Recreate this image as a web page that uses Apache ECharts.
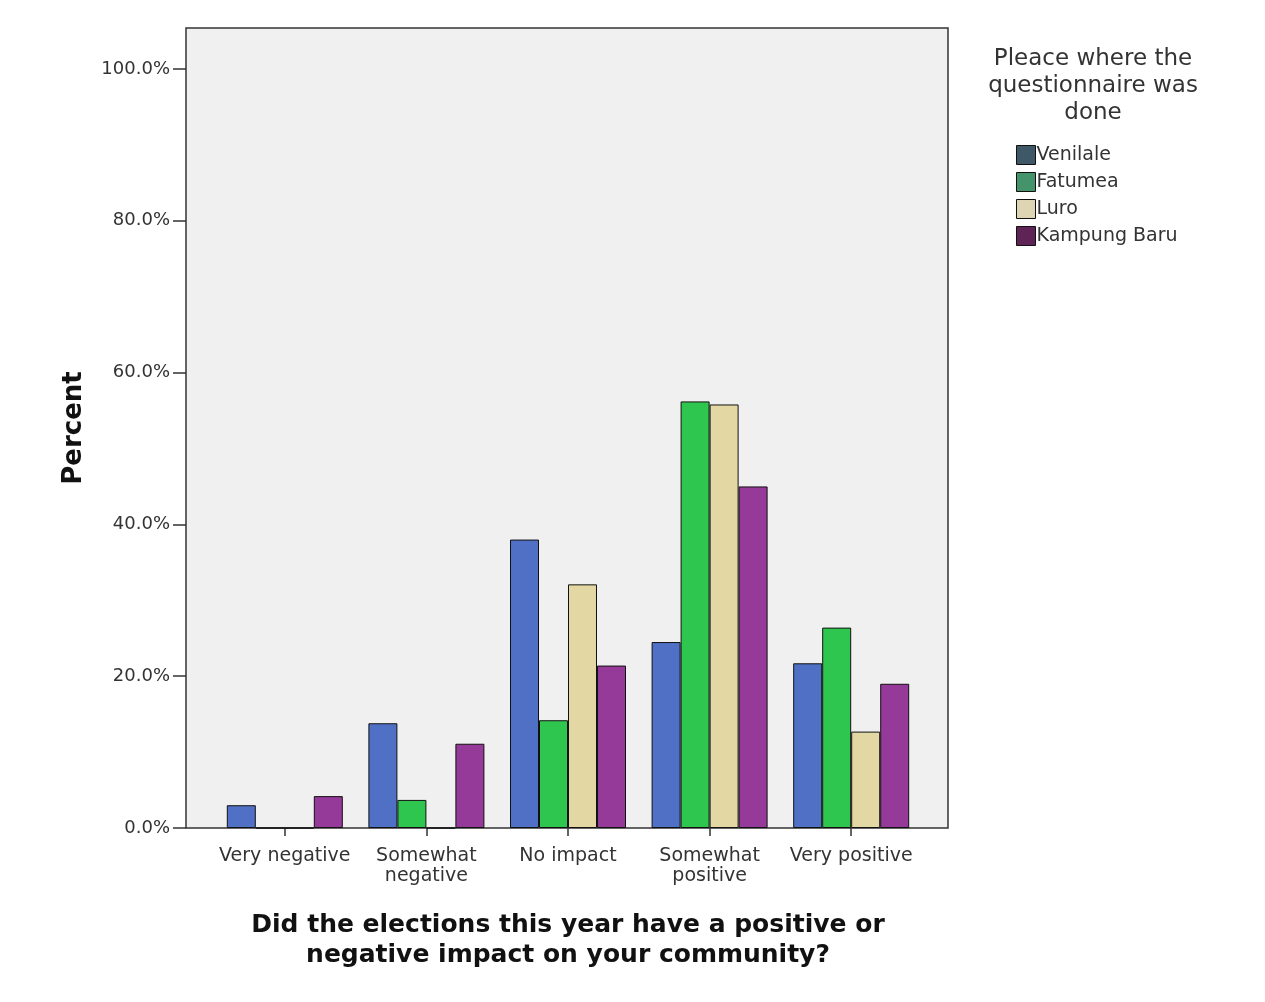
<!DOCTYPE html>
<html><head><meta charset="utf-8">
<script src="https://cdn.jsdelivr.net/npm/echarts@6/dist/echarts.min.js"></script>
<style>html,body{margin:0;padding:0;background:#fff}#c{width:1265px;height:1002px}</style>
</head><body><div id="c"></div>
<script>
const categories = ['Very negative', 'Somewhat\nnegative', 'No impact', 'Somewhat\npositive', 'Very positive'];
const venilale = [3.0, 13.8, 38.0, 24.5, 21.7];
const fatumea = [0, 3.7, 14.2, 56.2, 26.4];
const luro = [0, 0, 32.1, 55.8, 12.7];
const kampungBaru = [4.2, 11.1, 21.4, 45.0, 19.0];
const seriesNames = ['Venilale', 'Fatumea', 'Luro', 'Kampung Baru'];
const barColors = ['#4f70c4', '#2fc64f', '#e3d7a3', '#963a99'];
const legendColors = ['#3e5868', '#44936a', '#ddd5b4', '#5e2456'];
const legendTitle = 'Pleace where the\nquestionnaire was\ndone';
const xTitle = 'Did the elections this year have a positive or\nnegative impact on your community?';
const yTitle = 'Percent';

const chart = echarts.init(document.getElementById('c'));
const FONT = '"DejaVu Sans", Verdana, sans-serif';
const allData = [venilale, fatumea, luro, kampungBaru];
chart.setOption({
  animation: false,
  graphic: [
    { type: 'rect', z: -10, shape: { x: 186, y: 28, width: 762, height: 800 },
      style: { fill: '#f0f0f0', stroke: '#333', lineWidth: 1.5 } },
    { type: 'text', left: 1093 - 120, top: 46, z: 10,
      style: { text: legendTitle, font: '23px ' + FONT, fill: '#333', textAlign: 'center', width: 240, lineHeight: 27, x: 120 } }
  ],
  grid: { left: 214, top: 28, width: 708, height: 800 },
  legend: {
    orient: 'vertical', left: 1011, top: 140, itemWidth: 19, itemHeight: 19, itemGap: 7,
    icon: 'rect',
    textStyle: { fontSize: 19, color: '#333', fontFamily: FONT, padding: [0, 0, 0, -4] },
    data: seriesNames.map((n, i) => ({ name: n, itemStyle: { color: legendColors[i], borderColor: '#111', borderWidth: 1 } }))
  },
  xAxis: {
    type: 'category', data: categories,
    name: xTitle, nameLocation: 'middle', nameGap: 82,
    nameTextStyle: { fontSize: 25, fontWeight: 'bold', color: '#111', fontFamily: FONT, lineHeight: 30 },
    axisLine: { show: false },
    axisTick: { show: true, alignWithLabel: true, length: 8, lineStyle: { color: '#333', width: 1.5 } },
    axisLabel: { fontSize: 19, color: '#333', fontFamily: FONT, lineHeight: 20, margin: 18, interval: 0 }
  },
  yAxis: {
    type: 'value', min: 0, max: 105.4, interval: 20, offset: 28,
    name: yTitle, nameLocation: 'middle', nameGap: 99, nameRotate: 90,
    nameTextStyle: { fontSize: 26, fontWeight: 'bold', color: '#111', fontFamily: FONT },
    axisLine: { show: false },
    splitLine: { show: false },
    axisTick: { show: true, length: 13, lineStyle: { color: '#333', width: 1.5 } },
    axisLabel: { fontSize: 18, color: '#333', fontFamily: FONT, margin: 16, showMaxLabel: false,
      formatter: v => v.toFixed(1) + '%' }
  },
  series: seriesNames.map((n, i) => ({
    name: n, type: 'bar', data: allData[i], barWidth: 29, barGap: '0%',
    itemStyle: { color: barColors[i], borderColor: '#111', borderWidth: 1 }
  }))
});
</script></body></html>
